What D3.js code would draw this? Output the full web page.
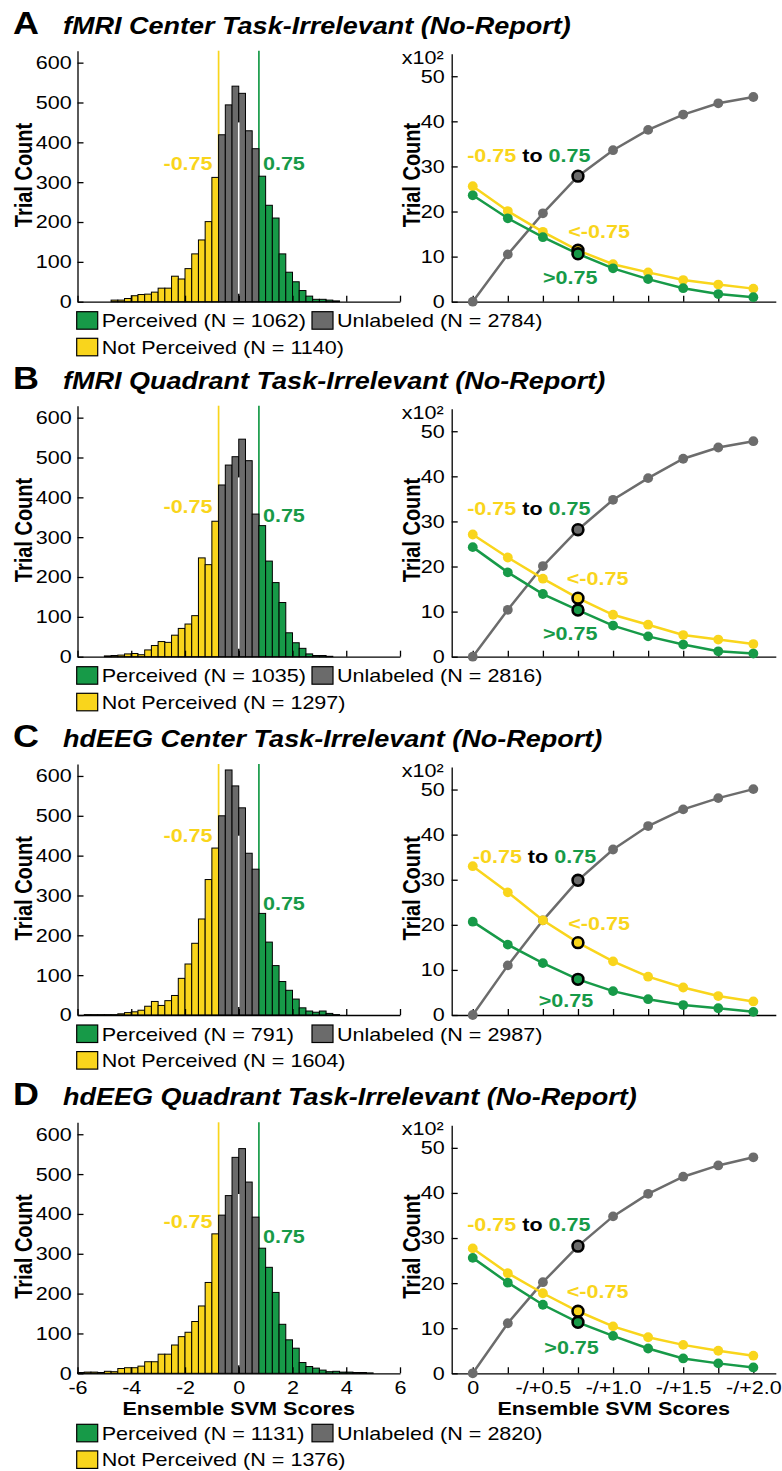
<!DOCTYPE html>
<html>
<head>
<meta charset="utf-8">
<script src="https://cdn.jsdelivr.net/npm/d3@7"></script>
<style>
  body { margin: 0; background: #fff; }
  svg { display: block; font-family: "Liberation Sans", Arial, sans-serif; }
</style>
</head>
<body>
<div id="chart"></div>
<script>
// ---------- data ----------
const panelLetters = ["A", "B", "C", "D"];
const panelTitles = [
  "fMRI Center Task-Irrelevant (No-Report)",
  "fMRI Quadrant Task-Irrelevant (No-Report)",
  "hdEEG Center Task-Irrelevant (No-Report)",
  "hdEEG Quadrant Task-Irrelevant (No-Report)"
];

// histogram: 48 bins of 0.25 from -6 to 6
const binStart = -6;
const binWidth = 0.25;
const threshold = 0.75;

const histA = [0,0,0,0,0, 4,4,8,15,18,19,24,34,34,64,57,83,120,155,201,312,
  419,494,541,523,429,384,
  315,242,210,120,74,50,28,14,6,6,4,2, 0,0,0,0,0,0,0,0,0];
const histB = [0,0,0,0, 2,3,4,7,8,5,17,28,38,36,54,71,82,103,248,231,340,
  431,481,502,546,492,358,
  329,240,186,136,60,35,21,7,3,3,1, 0,0,0,0,0,0,0,0,0,0];
const histC = [0, 1,1,1,1,1, 3,6,8,12,22,34,24,36,49,92,128,180,241,340,419,
  500,615,575,520,406,366,
  255,183,124,84,62,40,18,10,7,10,4,1, 0,0,0,0,0,0,0,0,0];
const histD = [2,3,3,2,5,4,12,14,14,18,29,29,48,48,71,92,103,130,169,228,350,
  397,446,542,564,480,392,
  314,266,203,123,84,63,27,17,13,8,4,5,3,3,2,2,1, 0,0,0,0];
const histCounts = [histA, histB, histC, histD];

const nPerceived = [1062, 1035, 791, 1131];
const nUnlabeled = [2784, 2816, 2987, 2820];
const nNotPerceived = [1140, 1297, 1604, 1376];

// cumulative trial counts (x10^2) against the threshold
const lineX = [0, 0.25, 0.5, 0.75, 1.0, 1.25, 1.5, 1.75, 2.0];
const grayA = [0, 10.5, 19.6, 27.84, 33.6, 38.1, 41.5, 44.0, 45.4];
const yellowA = [25.6, 20.1, 15.5, 11.40, 8.3, 6.5, 4.8, 3.8, 2.9];
const greenA = [23.6, 18.5, 14.3, 10.62, 7.4, 5.0, 3.0, 1.7, 1.0];
const grayB = [0, 10.4, 20.1, 28.16, 34.8, 39.6, 43.9, 46.4, 47.8];
const yellowB = [27.1, 22.0, 17.3, 12.97, 9.3, 7.1, 4.8, 3.8, 2.8];
const greenB = [24.3, 18.7, 13.9, 10.35, 6.9, 4.5, 2.7, 1.2, 0.7];
const grayC = [0, 11.0, 21.0, 29.87, 36.7, 41.9, 45.6, 48.1, 50.1];
const yellowC = [33.0, 27.2, 21.0, 16.04, 11.9, 8.5, 6.1, 4.2, 3.0];
const greenC = [20.7, 15.6, 11.5, 7.91, 5.3, 3.5, 2.2, 1.5, 0.7];
const grayD = [0, 11.1, 20.2, 28.20, 34.8, 39.8, 43.6, 46.1, 47.9];
const yellowD = [27.7, 22.2, 17.75, 13.76, 10.4, 8.0, 6.3, 5.0, 3.9];
const greenD = [25.6, 20.1, 15.2, 11.31, 8.3, 5.5, 3.3, 2.2, 1.3];
const graySeries = [grayA, grayB, grayC, grayD];
const yellowSeries = [yellowA, yellowB, yellowC, yellowD];
const greenSeries = [greenA, greenB, greenC, greenD];

// ticks
const histXTicks = [-6, -4, -2, 0, 2, 4, 6];
const histYTicks = [0, 100, 200, 300, 400, 500, 600];
const lineYTicks = [0, 10, 20, 30, 40, 50];
const lineXTicks = [0, 0.25, 0.5, 0.75, 1.0, 1.25, 1.5, 1.75, 2.0];
const lineXTickLabels = ["0", "", "-/+0.5", "", "-/+1.0", "", "-/+1.5", "", "-/+2.0"];

// ---------- layout ----------
const width = 782, height = 1471;
const SX = 1.16;              // the figure is a bit wider than tall
const panelY0 = [301.7, 656.7, 1015, 1373.3];   // zero line of each row
const histLabelYellowY = [330, 360, 435, 364];
const histLabelGreenY = [330, 339, 264, 326];
const rangeLabelPos = [[-0.04, 30.9], [-0.04, 31.5], [0.0, 33.8], [-0.04, 31.5]];
const lessLabelPos = [[0.68, 14.1], [0.67, 16.0], [0.68, 18.9], [0.67, 16.8]];
const moreLabelPos = [[0.50, 3.9], [0.50, 3.6], [0.47, 1.8], [0.51, 4.2]];

const colors = { yellow: "#f9d51c", green: "#179a48", gray: "#6c6c6c", grayBar: "#6b6b6b" };
const tickFont = 18.6;

const svg = d3.select("#chart")
  .append("svg")
  .attr("width", width)
  .attr("height", height);

// text with the horizontal stretch applied
function label(g, x, y, str, size, weight, anchor, fill) {
  return g.append("text")
    .attr("transform", `translate(${x},${y}) scale(${SX},1)`)
    .attr("font-size", size)
    .attr("font-weight", weight || "normal")
    .attr("text-anchor", anchor || "start")
    .attr("fill", fill || "#000")
    .text(str);
}

function styleAxis(g) {
  g.attr("font-family", null).attr("font-size", null);
  g.select(".domain").attr("stroke", "#000").attr("stroke-width", 1.3);
  g.selectAll(".tick line").attr("stroke", "#000").attr("stroke-width", 1.3);
  g.selectAll(".tick text")
    .attr("font-size", tickFont)
    .attr("fill", "#000")
    .attr("transform", `scale(${SX},1)`);
}

panelLetters.forEach((letter, p) => {
  const y0 = panelY0[p];
  const g = svg.append("g");
  const isLast = p === panelLetters.length - 1;

  // title
  label(g, 13, y0 - 268, letter, 31, "bold");
  label(g, 63, y0 - 268, panelTitles[p], 23.3, "bold").attr("font-style", "italic");

  // ----- histogram -----
  const hx = d3.scaleLinear().domain([-6, 6]).range([77.5, 400]);
  const hy = d3.scaleLinear().domain([0, 630]).range([y0, y0 - 251]);

  g.append("line")
    .attr("x1", hx(-threshold)).attr("x2", hx(-threshold))
    .attr("y1", hy(630)).attr("y2", hy(0))
    .attr("stroke", colors.yellow).attr("stroke-width", 1.7);
  g.append("line")
    .attr("x1", hx(threshold)).attr("x2", hx(threshold))
    .attr("y1", hy(630)).attr("y2", hy(0))
    .attr("stroke", colors.green).attr("stroke-width", 1.7);

  const bins = histCounts[p]
    .map((c, i) => ({ x0: binStart + i * binWidth, c }))
    .filter(d => d.c > 0);

  g.selectAll("rect.bar")
    .data(bins)
    .join("rect")
    .attr("class", "bar")
    .attr("x", d => hx(d.x0))
    .attr("width", d => hx(d.x0 + binWidth) - hx(d.x0))
    .attr("y", d => hy(d.c))
    .attr("height", d => hy(0) - hy(d.c))
    .attr("fill", d => {
      const mid = d.x0 + binWidth / 2;
      if (mid < -threshold) return colors.yellow;
      if (mid > threshold) return colors.green;
      return colors.grayBar;
    })
    .attr("stroke", "#000")
    .attr("stroke-width", 1);

  // white zero line through the unlabeled bars
  g.append("line")
    .attr("x1", hx(0)).attr("x2", hx(0))
    .attr("y1", hy(450)).attr("y2", hy(20))
    .attr("stroke", "#fff").attr("stroke-width", 1.6);

  label(g, hx(-threshold) - 6, hy(histLabelYellowY[p]), "-0.75", tickFont, "bold", "end", colors.yellow);
  label(g, hx(threshold) + 4, hy(histLabelGreenY[p]), "0.75", tickFont, "bold", "start", colors.green);

  const hAxisY = g.append("g")
    .attr("transform", `translate(${hx.range()[0]},0)`)
    .call(d3.axisLeft(hy).tickValues(histYTicks).tickSizeInner(-6).tickSizeOuter(0).tickPadding(5));
  styleAxis(hAxisY);

  const hAxisX = g.append("g")
    .attr("transform", `translate(0,${y0})`)
    .call(d3.axisBottom(hx).tickValues(histXTicks).tickSizeInner(-6).tickSizeOuter(0).tickPadding(8)
      .tickFormat(isLast ? d3.format("d") : () => ""));
  styleAxis(hAxisX);
  hAxisX.selectAll(".tick text").text(d => isLast ? (d < 0 ? "-" + Math.abs(d) : d) : "");

  label(g, 31.7, y0 - 126.7, "Trial Count", 20, "bold", "middle")
    .attr("transform", `translate(31.7,${y0 - 126.7}) scale(${SX},1) rotate(-90)`);

  // ----- cumulative line plot -----
  const lx = d3.scaleLinear().domain([-0.15, 2.16]).range([451.7, 775.8]);
  const ly = d3.scaleLinear().domain([0, 55]).range([y0, y0 - 248]);

  const lAxisY = g.append("g")
    .attr("transform", `translate(${lx.range()[0]},0)`)
    .call(d3.axisLeft(ly).tickValues(lineYTicks).tickSizeInner(-6).tickSizeOuter(0).tickPadding(6));
  styleAxis(lAxisY);

  const lAxisX = g.append("g")
    .attr("transform", `translate(0,${y0})`)
    .call(d3.axisBottom(lx).tickValues(lineXTicks).tickSizeInner(-6).tickSizeOuter(0).tickPadding(8)
      .tickFormat((d, i) => isLast ? lineXTickLabels[i] : ""));
  styleAxis(lAxisX);

  label(g, lx.range()[0] - 8, ly(55) + 10, "x10²", tickFont, "normal", "end");
  label(g, 420, y0 - 126.7, "Trial Count", 20, "bold", "middle")
    .attr("transform", `translate(420,${y0 - 126.7}) scale(${SX},1) rotate(-90)`);

  const line = d3.line().x((d, i) => lx(lineX[i])).y(d => ly(d));
  const series = [
    { vals: graySeries[p], color: colors.gray },
    { vals: yellowSeries[p], color: colors.yellow },
    { vals: greenSeries[p], color: colors.green }
  ];
  series.forEach(s => {
    g.append("path")
      .attr("d", line(s.vals))
      .attr("fill", "none")
      .attr("stroke", s.color)
      .attr("stroke-width", 2.5);
    g.selectAll(null)
      .data(s.vals)
      .join("circle")
      .attr("cx", (d, i) => lx(lineX[i]))
      .attr("cy", d => ly(d))
      .attr("r", 4.9)
      .attr("fill", s.color);
  });
  const hi = lineX.indexOf(threshold);
  series.forEach(s => {
    g.append("circle")
      .attr("cx", lx(lineX[hi]))
      .attr("cy", ly(s.vals[hi]))
      .attr("r", 5.4)
      .attr("fill", s.color)
      .attr("stroke", "#000")
      .attr("stroke-width", 2.6);
  });

  const rl = label(g, lx(rangeLabelPos[p][0]), ly(rangeLabelPos[p][1]), "", tickFont, "bold");
  rl.append("tspan").attr("fill", colors.yellow).text("-0.75");
  rl.append("tspan").attr("fill", "#000").text(" to ");
  rl.append("tspan").attr("fill", colors.green).text("0.75");
  label(g, lx(lessLabelPos[p][0]), ly(lessLabelPos[p][1]), "<-0.75", tickFont, "bold", "start", colors.yellow);
  label(g, lx(moreLabelPos[p][0]), ly(moreLabelPos[p][1]), ">0.75", tickFont, "bold", "start", colors.green);

  if (isLast) {
    label(g, 238.7, y0 + 41.7, "Ensemble SVM Scores", 18.6, "bold", "middle");
    label(g, 613.7, y0 + 41.7, "Ensemble SVM Scores", 18.6, "bold", "middle");
  }

  // ----- legend -----
  const ly0 = y0 + (isLast ? 41 : 0);
  const legendItems = [
    { x: 76.7, row: 0, color: colors.green, text: `Perceived (N = ${nPerceived[p]})` },
    { x: 312, row: 0, color: colors.grayBar, text: `Unlabeled (N = ${nUnlabeled[p]})` },
    { x: 76.7, row: 1, color: colors.yellow, text: `Not Perceived (N = ${nNotPerceived[p]})` }
  ];
  legendItems.forEach(it => {
    const top = ly0 + 10 + it.row * 26.6;
    g.append("rect")
      .attr("x", it.x).attr("y", top)
      .attr("width", 21).attr("height", 17.5)
      .attr("fill", it.color)
      .attr("stroke", "#000").attr("stroke-width", 1.2);
    label(g, it.x + 25, top + 15.5, it.text, tickFont);
  });
});
</script>
</body>
</html>
